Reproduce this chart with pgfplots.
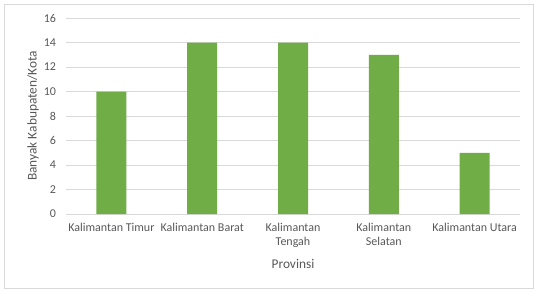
\documentclass[border=0pt]{standalone}
\usepackage{pgfplots}
\pgfplotsset{compat=1.18}
\usepackage{fontspec}
\setmainfont{Carlito}
\definecolor{bargreen}{HTML}{70AD47}
\definecolor{txtgray}{HTML}{595959}
\definecolor{gridgray}{HTML}{D9D9D9}
\begin{document}
\begin{tikzpicture}
\fill[white] (-49.5pt,-60pt) rectangle (354.75pt,160.5pt);
\draw[gridgray, line width=0.75pt] (-45.75pt,-55.5pt) rectangle (350.25pt,157.5pt);
\begin{axis}[
  at={(0,0)}, anchor=south west,
  scale only axis,
  width=340.5pt, height=147pt,
  xmin=-0.5, xmax=4.5,
  ymin=0, ymax=16,
  ytick={0,2,...,16},
  xtick={0,1,2,3,4},
  xticklabels={Kalimantan Timur, Kalimantan Barat, {Kalimantan\\Tengah}, {Kalimantan\\Selatan}, Kalimantan Utara},
  x tick label style={align=center, text=txtgray, font=\fontsize{9}{10.5}\selectfont, yshift=-3pt},
  y tick label style={text=txtgray, font=\fontsize{9}{10.5}\selectfont, xshift=-4pt},
  /pgf/number format/assume math mode=true,
  major tick length=0pt,
  ymajorgrids,
  grid style={gridgray, line width=0.75pt},
  axis x line*=bottom,
  axis y line*=left,
  x axis line style={gridgray, line width=0.75pt, -},
  y axis line style={draw=none},
  xlabel={Provinsi},
  ylabel={Banyak Kabupaten/Kota},
  xlabel style={at={(axis description cs:0.5,-0.255)}, anchor=center, text=txtgray, font=\fontsize{10}{12}\selectfont},
  ylabel style={at={(axis description cs:-0.0727,0.5)}, anchor=center, text=txtgray, font=\fontsize{10}{12}\selectfont},
]
\addplot[ybar, bar width=22.5pt, fill=bargreen, draw=none] coordinates {(0,10) (1,14) (2,14) (3,13) (4,5)};
\end{axis}
\end{tikzpicture}
\end{document}
